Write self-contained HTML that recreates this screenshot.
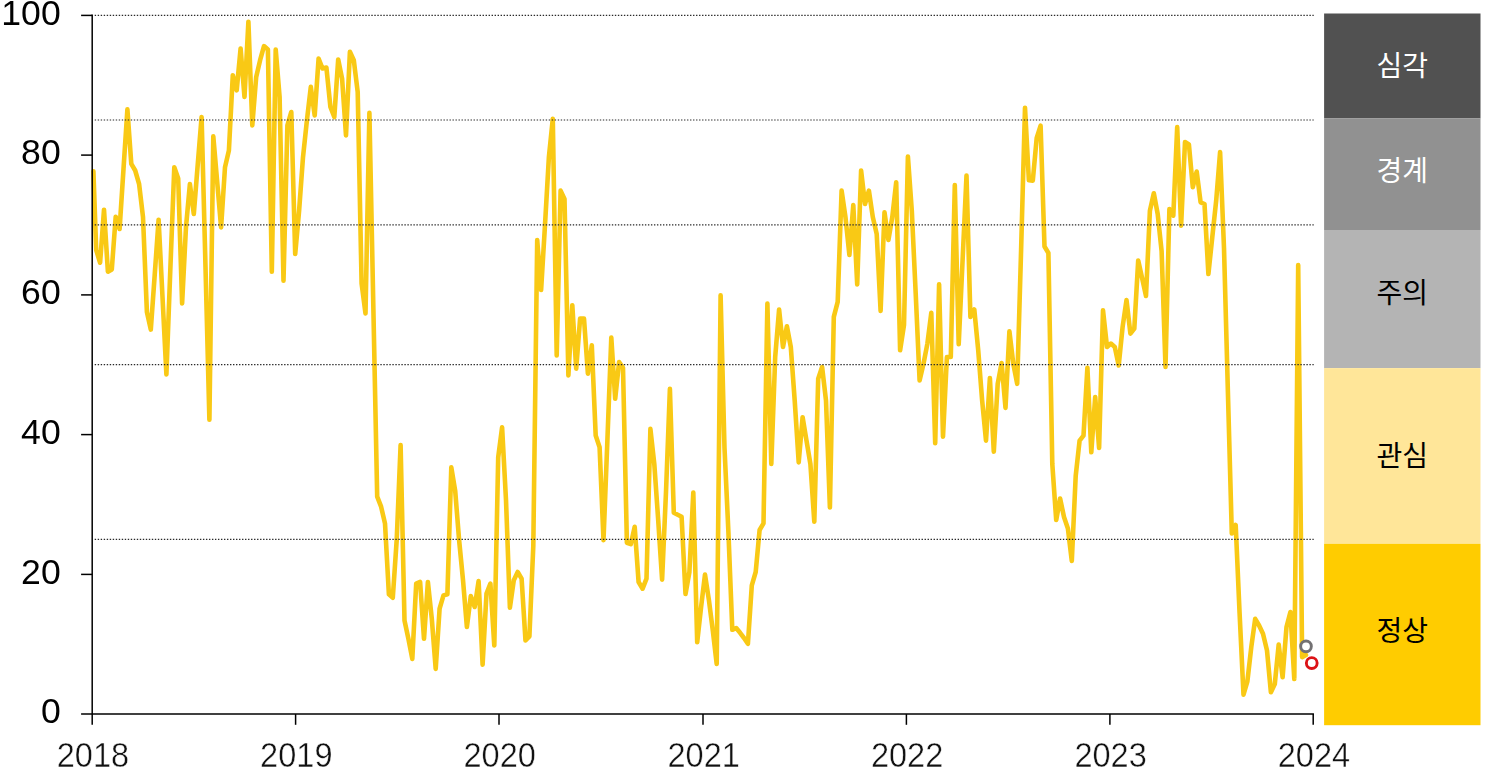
<!DOCTYPE html>
<html lang="ko"><head><meta charset="utf-8"><title>chart</title>
<style>
html,body{margin:0;padding:0;background:#fff;}
body{width:1487px;height:777px;overflow:hidden;font-family:"Liberation Sans",sans-serif;}
svg{display:block;}
.yl{font-family:"Liberation Sans",sans-serif;font-size:35.6px;fill:#000;text-anchor:end;}
.xl{font-family:"Liberation Sans",sans-serif;font-size:35px;fill:#111;text-anchor:middle;stroke:#fff;stroke-width:0.45px;paint-order:fill stroke;}
.ko{font-family:"Liberation Sans","Noto Sans CJK KR","NanumGothic",sans-serif;font-size:28px;text-anchor:middle;}
</style></head><body>
<svg width="1487" height="777" viewBox="0 0 1487 777">
<rect x="0" y="0" width="1487" height="777" fill="#ffffff"/>

<rect x="1324.1" y="13.5" width="156.4" height="104.9" fill="#515151"/>
<rect x="1324.1" y="118.4" width="156.4" height="111.6" fill="#919191"/>
<rect x="1324.1" y="230.0" width="156.4" height="138.1" fill="#b4b4b4"/>
<rect x="1324.1" y="368.1" width="156.4" height="175.7" fill="#ffe699"/>
<rect x="1324.1" y="543.8" width="156.4" height="181.4" fill="#ffcc00"/>
<polyline fill="none" stroke="#f9c915" stroke-width="4.6" stroke-linejoin="round" stroke-linecap="round" points="93.4,171.2 96.2,250 100.1,262.7 104,209.7 107.9,271.7 111.8,269.4 115.7,216.7 119.6,229 123.5,169 127.4,109.3 131.3,163.8 135.2,170.5 139.1,184 143,217 146.9,311.9 150.8,329.6 154.7,275 158.6,219.7 162.5,297 166.4,374.4 170.3,270 174.3,167.2 178.2,178.5 182.1,303.5 186,227 189.9,184 193.8,214 197.7,165 201.6,117 205.5,267 209.4,419.6 213.3,136.4 217.2,182 221.1,227.4 225,167.2 228.9,150.5 232.8,75.2 236.7,90.3 240.6,48.5 244.5,97 248.4,21.7 252.3,125.4 256.2,76.9 260.1,60.2 264,46.1 267.9,49.5 271.8,271.7 275.7,49.5 279.6,97 283.5,280.8 287.4,125.4 291.3,112 295.2,254 299.1,210.7 303,157.2 306.9,120.4 310.8,86.9 314.7,115.4 318.6,58.5 322.5,68.5 326.4,67.5 330.4,107 334.3,117 338.2,59.5 342.1,78.6 346,135.4 349.9,51.8 353.8,60.2 357.7,92 361.6,283.4 365.5,313.5 369.4,112.7 373.3,305 377.2,496.7 381.1,506.7 385,523.4 388.9,594.3 392.8,597.7 396.7,540 400.6,445 404.5,620.4 408.4,638.8 412.3,658.9 416.2,583.6 420.1,582 424,638.8 427.9,582 431.8,618.8 435.7,668.9 439.6,608.7 443.5,595.4 447.4,594.3 451.3,467.4 455.2,490.8 459.1,540 463,580 466.9,627 470.8,596 474.7,607 478.6,581 482.6,664.6 486.5,593.7 490.4,583.6 494.3,645.5 498.2,457.4 502.1,427.3 506,500 509.9,607.7 513.8,580.3 517.7,572 521.6,578.6 525.5,640.5 529.4,636.5 533.3,546 537.2,240 541.1,290 545,225 548.9,157 552.8,118.7 556.7,355.4 560.6,190.6 564.5,199 568.4,375.4 572.3,305.2 576.2,368.7 580.1,318.6 584,318.6 587.9,373.7 591.8,345.3 595.7,435.6 599.6,447.3 603.5,540.2 607.4,440 611.3,337.6 615.2,398.8 619.1,362 623,367.7 626.9,542.8 630.8,544.2 634.7,526.8 638.6,582 642.6,588.7 646.5,578.6 650.4,428.9 654.3,464 658.2,520 662.1,579.6 666,492 669.9,388.8 673.8,512.7 677.7,514.7 681.6,516.8 685.5,594 689.4,572 693.3,492.5 697.2,642.2 701.1,607 705,574.5 708.9,600 712.8,630.5 716.7,664 720.6,295.2 724.5,448 728.4,531.8 732.3,629.8 736.2,628 740.1,632.8 744,638 747.9,643.8 751.8,585.3 755.7,572 759.6,530 763.5,523.4 767.4,303.5 771.3,464 775.2,357 779.1,309.5 783,347 786.9,326.3 790.8,347 794.7,400.5 798.7,462.4 802.6,417.2 806.5,440.6 810.4,464 814.3,521.8 818.2,378.8 822.1,367 826,400.5 829.9,507.5 833.8,316.9 837.7,301.8 841.6,190.6 845.5,217.4 849.4,255 853.3,205 857.2,284.4 861.1,170.5 865,204 868.9,190.6 872.8,217 876.7,234 880.6,310.9 884.5,212.3 888.4,240 892.3,217 896.2,182.2 900.1,350.3 904,325 907.9,156.5 911.8,210.7 915.7,293.5 919.6,380.4 923.5,363.7 927.4,343.6 931.3,312.9 935.2,443.3 939.1,284.4 943,436.6 946.9,357 950.8,357 954.8,185 958.7,344.3 962.6,260 966.5,175.6 970.4,316.9 974.3,309.5 978.2,350 982.1,400 986,440.6 989.9,378 993.8,451.7 997.7,383.8 1001.6,363 1005.5,407.9 1009.4,331.3 1013.3,363.7 1017.2,383.8 1021.1,250 1025,107.7 1028.9,180.3 1032.8,180.6 1036.7,138 1040.6,125.7 1044.5,246.5 1048.4,253 1052.3,464 1056.2,520 1060.1,498.5 1064,517 1067.9,528.5 1071.8,561 1075.7,476 1079.6,440.6 1083.5,435.6 1087.4,367.7 1091.3,452.3 1095.2,397 1099.1,448 1103,310.2 1107,347 1110.9,343.6 1114.8,347 1118.7,365.4 1122.6,327 1126.5,300 1130.4,333.6 1134.3,328.6 1138.2,260.5 1142.1,278 1146,296 1149.9,210.7 1153.8,193.3 1157.7,214 1161.6,251 1165.5,367 1169.4,209 1173.3,215.7 1177.2,127 1181.1,225.7 1185,142 1188.9,144.4 1192.8,187.3 1196.7,171.5 1200.6,202.3 1204.5,204 1208.4,274 1212.3,237 1216.2,200.6 1220.1,152 1224,248 1227.9,392 1231.8,533.5 1235.7,525 1239.6,613.4 1243.5,694.7 1247.4,681.3 1251.3,647 1255.2,618.8 1259.1,625.5 1263,633.8 1267,650.5 1270.9,692.3 1274.8,684 1278.7,644.5 1282.6,677.3 1286.5,627 1290.4,612 1294.3,679 1298.2,265 1302.1,657.1 1306,655"/>
<g stroke="#2a2a2a" stroke-width="1.15" stroke-dasharray="1.4 1.6067" fill="none">
<line x1="94.7" y1="15.4" x2="1313.7" y2="15.4"/>
<line x1="94.7" y1="120.0" x2="1313.7" y2="120.0"/>
<line x1="94.7" y1="224.9" x2="1313.7" y2="224.9"/>
<line x1="94.7" y1="364.55" x2="1313.7" y2="364.55"/>
<line x1="94.7" y1="539.4" x2="1313.7" y2="539.4"/>
</g>
<g stroke="#000" stroke-width="1.5" fill="none">
<line x1="92.2" y1="14.6" x2="92.2" y2="724.8"/>
<line x1="81.1" y1="714.1" x2="1313.95" y2="714.1"/>
<line x1="81.1" y1="15.4" x2="92.2" y2="15.4"/>
<line x1="81.1" y1="155.1" x2="92.2" y2="155.1"/>
<line x1="81.1" y1="294.9" x2="92.2" y2="294.9"/>
<line x1="81.1" y1="434.6" x2="92.2" y2="434.6"/>
<line x1="81.1" y1="574.4" x2="92.2" y2="574.4"/>
<line x1="295.6" y1="714.1" x2="295.6" y2="724.8"/>
<line x1="499.0" y1="714.1" x2="499.0" y2="724.8"/>
<line x1="703.0" y1="714.1" x2="703.0" y2="724.8"/>
<line x1="906.4" y1="714.1" x2="906.4" y2="724.8"/>
<line x1="1109.9" y1="714.1" x2="1109.9" y2="724.8"/>
<line x1="1313.2" y1="714.1" x2="1313.2" y2="724.8"/>
</g>
<circle cx="1306" cy="646.35" r="5.35" fill="#fff" stroke="#737173" stroke-width="2.9"/>
<circle cx="1311.75" cy="663.05" r="5.4" fill="#fff" stroke="#dc1216" stroke-width="2.9"/>
<g opacity="0.999">
<text class="yl" x="60.7" y="24.6">100</text>
<text class="yl" x="60.7" y="164.3">80</text>
<text class="yl" x="60.7" y="304.1">60</text>
<text class="yl" x="60.7" y="443.8">40</text>
<text class="yl" x="60.7" y="583.6">20</text>
<text class="yl" x="60.7" y="723.3">0</text>
<text class="xl" transform="translate(92.9,766.5) scale(0.93,1)">2018</text>
<text class="xl" transform="translate(296.3,766.5) scale(0.93,1)">2019</text>
<text class="xl" transform="translate(499.7,766.5) scale(0.93,1)">2020</text>
<text class="xl" transform="translate(703.7,766.5) scale(0.93,1)">2021</text>
<text class="xl" transform="translate(907.1,766.5) scale(0.93,1)">2022</text>
<text class="xl" transform="translate(1110.6,766.5) scale(0.93,1)">2023</text>
<text class="xl" transform="translate(1313.9,766.5) scale(0.93,1)">2024</text>
</g>
<text class="ko" x="1402.3" y="75.9" fill="#fff">심각</text>
<text class="ko" x="1402.3" y="180.75" fill="#fff">경계</text>
<text class="ko" x="1402.3" y="302.7" fill="#000">주의</text>
<text class="ko" x="1402.3" y="465.5" fill="#000">관심</text>
<text class="ko" x="1402.3" y="641.05" fill="#000">정상</text>
</svg>
</body></html>
